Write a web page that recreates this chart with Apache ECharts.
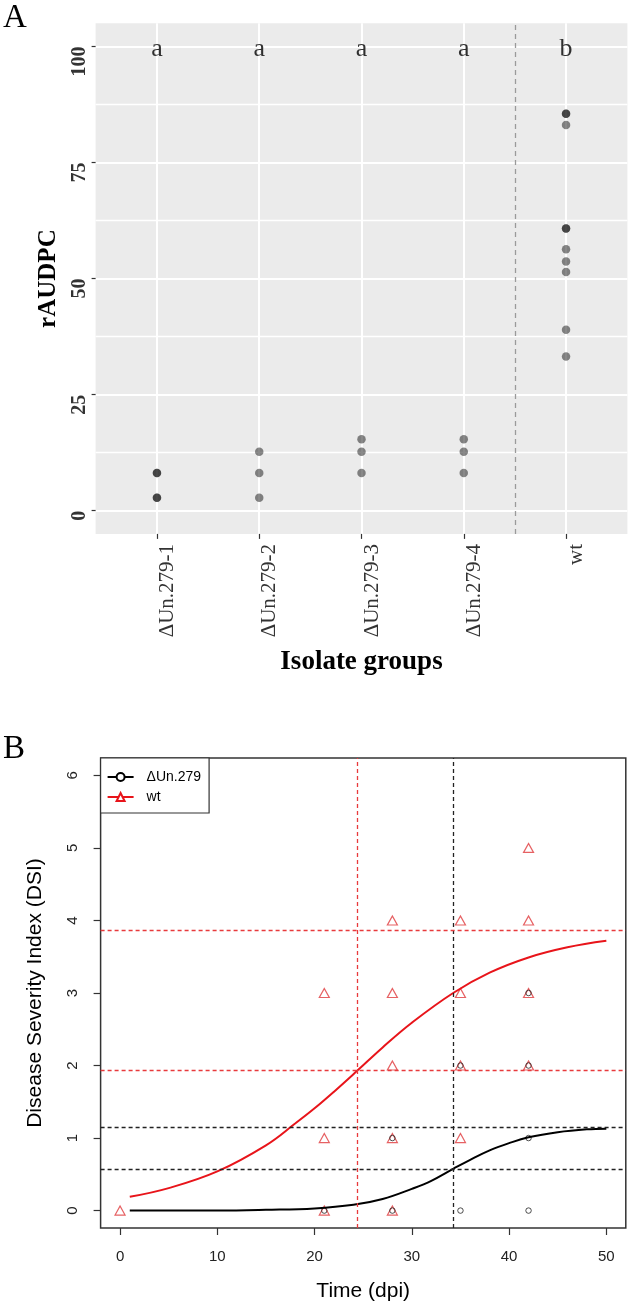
<!DOCTYPE html>
<html><head><meta charset="utf-8">
<script src="https://cdn.jsdelivr.net/npm/echarts@6/dist/echarts.min.js"></script>
<style>html,body{margin:0;padding:0;background:#fff}#c{width:631px;height:1311px}</style>
</head><body><div id="c"></div>
<script>
// ---------- Panel A data ----------
const groups = ['ΔUn.279-1', 'ΔUn.279-2', 'ΔUn.279-3', 'ΔUn.279-4', 'wt'];
const vals1 = [8.1, 8.1, 2.8, 2.8];
const vals2 = [12.7, 8.1, 2.8];
const vals3 = [15.4, 12.7, 8.1];
const vals4 = [15.4, 12.7, 8.1];
const valsWt = [85.5, 85.5, 83.1, 60.8, 60.8, 56.3, 53.7, 51.4, 39.0, 33.2];
const letters = ['a', 'a', 'a', 'a', 'b'];
const letterY = 100;
const yTicksA = [0, 25, 50, 75, 100];
const yMinorA = [12.5, 37.5, 62.5, 87.5];
const sepX = 4.5;

// ---------- Panel B data ----------
const timeTicks = [0, 10, 20, 30, 40, 50];
const dsiTicks = [0, 1, 2, 3, 4, 5, 6];
const wtObs = [[0,0],[21,0],[21,1],[21,3],[28,0],[28,1],[28,2],[28,3],[28,4],[35,1],[35,2],[35,3],[35,4],[42,2],[42,3],[42,4],[42,5]];
const mutObs = [[21,0],[28,0],[28,1],[35,0],[35,2],[42,0],[42,1],[42,2],[42,3]];
const wtFitT = [1, 5, 10, 15, 18, 20, 22, 24.4, 27, 30, 34.25, 38, 42, 46, 50];
const wtFitY = [0.19, 0.31, 0.54, 0.90, 1.20, 1.41, 1.64, 1.93, 2.25, 2.59, 3.00, 3.28, 3.49, 3.63, 3.72];
const mutFitT = [1, 10, 15, 20, 24, 27, 30, 32, 34.25, 36, 38, 40, 42, 45, 48, 50];
const mutFitY = [0.00, 0.00, 0.01, 0.03, 0.08, 0.16, 0.30, 0.41, 0.575, 0.70, 0.83, 0.93, 1.01, 1.08, 1.12, 1.13];
const wtRefY = [3.87, 1.93];
const wtRefX = 24.4;
const mutRefY = [1.15, 0.575];
const mutRefX = 34.25;

const SERIF = 'Liberation Serif';
const SANS = 'Liberation Sans';

const groupVals = [vals1, vals2, vals3, vals4, valsWt];
const ptsA = [];
groupVals.forEach((arr, i) => arr.forEach(v => ptsA.push([i + 1, v])));
const letterPts = letters.map((l, i) => [i + 1, letterY]);
const zip = (a, b) => a.map((v, i) => [v, b[i]]);

const chart = echarts.init(document.getElementById('c'), null, {renderer: 'canvas'});
chart.setOption({
  animation: false,
  backgroundColor: '#fff',
  grid: [
    {left: 95.6, right: 3.6, top: 23.3, height: 510.6, show: true, backgroundColor: '#ebebeb', borderWidth: 0},
    {left: 100.6, right: 5.2, top: 758, height: 470, show: true, backgroundColor: '#fff', borderColor: '#333', borderWidth: 1.5}
  ],
  xAxis: [
    {type: 'value', gridIndex: 0, min: 0.4, max: 5.6,
     axisLine: {show: false, onZero: false},
     axisTick: {customValues: [1,2,3,4,5], length: 5, lineStyle: {color: '#333', width: 1.2}},
     axisLabel: {customValues: [1,2,3,4,5], formatter: v => groups[Math.round(v) - 1], rotate: 90,
                 align: 'right', verticalAlign: 'top', margin: 10, fontFamily: SERIF, fontSize: 21, color: '#333'},
     splitLine: {show: true, lineStyle: {color: '#fff', width: 2}},
     name: 'Isolate groups', nameLocation: 'middle', nameGap: 115,
     nameTextStyle: {fontFamily: SERIF, fontWeight: 'bold', fontSize: 27, color: '#000'}},
    {type: 'value', gridIndex: 1, min: -2, max: 52,
     axisLine: {show: false, onZero: false},
     axisTick: {customValues: timeTicks, length: 7, lineStyle: {color: '#333', width: 1.2}},
     axisLabel: {customValues: timeTicks, margin: 21, fontFamily: SANS, fontSize: 15, color: '#222'},
     splitLine: {show: false},
     name: 'Time (dpi)', nameLocation: 'middle', nameGap: 53,
     nameTextStyle: {fontFamily: SANS, fontSize: 21, color: '#000'}}
  ],
  yAxis: [
    {type: 'value', gridIndex: 0, min: -5, max: 105,
     axisLine: {show: false, onZero: false},
     axisTick: {customValues: yTicksA, length: 4, lineStyle: {color: '#333', width: 1.2}},
     axisLabel: {customValues: yTicksA, rotate: 90, align: 'right', verticalAlign: 'bottom', margin: 6,
                 fontFamily: SERIF, fontWeight: 'bold', fontSize: 20, color: '#333'},
     splitLine: {show: true, lineStyle: {color: '#fff', width: 2}},
     name: 'rAUDPC', nameLocation: 'middle', nameGap: 35, nameRotate: 90,
     nameTextStyle: {fontFamily: SERIF, fontWeight: 'bold', fontSize: 25, color: '#000'}},
    {type: 'value', gridIndex: 0, min: -5, max: 105,
     axisLine: {show: false, onZero: false}, axisLabel: {show: false},
     axisTick: {show: false, customValues: yMinorA},
     splitLine: {show: true, lineStyle: {color: '#fff', width: 1.4}}},
    {type: 'value', gridIndex: 1, min: -0.24, max: 6.24,
     axisLine: {show: false, onZero: false},
     axisTick: {customValues: dsiTicks, length: 7, lineStyle: {color: '#333', width: 1.2}},
     axisLabel: {customValues: dsiTicks, rotate: 90, align: 'center', verticalAlign: 'bottom', margin: 20,
                 fontFamily: SANS, fontSize: 15, color: '#222'},
     splitLine: {show: false},
     name: 'Disease Severity Index (DSI)', nameLocation: 'middle', nameGap: 55, nameRotate: 90,
     nameTextStyle: {fontFamily: SANS, fontSize: 21, color: '#000'}}
  ],
  legend: {
    data: ['ΔUn.279', 'wt'], left: 100.6, top: 758, orient: 'vertical',
    itemWidth: 26, itemHeight: 10, itemGap: 6, padding: [12, 8, 9, 6],
    borderColor: '#333', borderWidth: 1.2, borderRadius: 0, backgroundColor: '#fff',
    textStyle: {fontFamily: SANS, fontSize: 14, color: '#000', padding: [0, 0, 0, 8]}
  },
  graphic: [
    {type: 'text', left: 3, top: 2, style: {text: 'A', fontFamily: SERIF, fontSize: 33, fill: '#000'}},
    {type: 'text', left: 3, top: 733, style: {text: 'B', fontFamily: SERIF, fontSize: 33, fill: '#000'}}
  ],
  series: [
    {type: 'scatter', name: 'isolates', xAxisIndex: 0, yAxisIndex: 0, data: ptsA, symbolSize: 8.5,
     itemStyle: {color: 'rgba(0,0,0,0.58)'},
     markLine: {silent: true, symbol: 'none', label: {show: false},
                lineStyle: {color: '#9a9a9a', type: [5, 4], width: 1.3}, data: [{xAxis: sepX}]}},
    {type: 'scatter', name: 'letters', xAxisIndex: 0, yAxisIndex: 0, data: letterPts, symbolSize: 1,
     itemStyle: {color: 'rgba(0,0,0,0)'},
     label: {show: true, position: 'inside', offset: [0, 3], formatter: p => letters[p.dataIndex],
             fontFamily: SERIF, fontSize: 26, color: '#000'}},
    {type: 'line', name: 'ΔUn.279', xAxisIndex: 1, yAxisIndex: 2, data: zip(mutFitT, mutFitY),
     smooth: 0.4, showSymbol: false, symbol: 'emptyCircle', symbolSize: 5,
     itemStyle: {color: '#000'}, lineStyle: {color: '#000', width: 2},
     markLine: {silent: true, symbol: 'none', label: {show: false},
                lineStyle: {color: '#222', type: [4, 3], width: 1.3},
                data: [{yAxis: mutRefY[0]}, {yAxis: mutRefY[1]}, {xAxis: mutRefX}]}},
    {type: 'line', name: 'wt', xAxisIndex: 1, yAxisIndex: 2, data: zip(wtFitT, wtFitY),
     smooth: 0.4, showSymbol: false, symbol: 'emptyTriangle', symbolSize: 7,
     itemStyle: {color: '#e8141a'}, lineStyle: {color: '#e8141a', width: 2},
     markLine: {silent: true, symbol: 'none', label: {show: false},
                lineStyle: {color: '#e83a3c', type: [4, 3], width: 1.3},
                data: [{yAxis: wtRefY[0]}, {yAxis: wtRefY[1]}, {xAxis: wtRefX}]}},
    {type: 'scatter', name: 'wt obs', xAxisIndex: 1, yAxisIndex: 2, data: wtObs, symbol: 'triangle', symbolSize: [10, 9],
     itemStyle: {color: 'rgba(0,0,0,0)', borderColor: '#e03a3c', borderWidth: 1.2}},
    {type: 'scatter', name: 'mut obs', xAxisIndex: 1, yAxisIndex: 2, data: mutObs, symbol: 'circle', symbolSize: 5.5,
     itemStyle: {color: 'rgba(0,0,0,0)', borderColor: '#222', borderWidth: 1}}
  ]
});
</script>
</body></html>
